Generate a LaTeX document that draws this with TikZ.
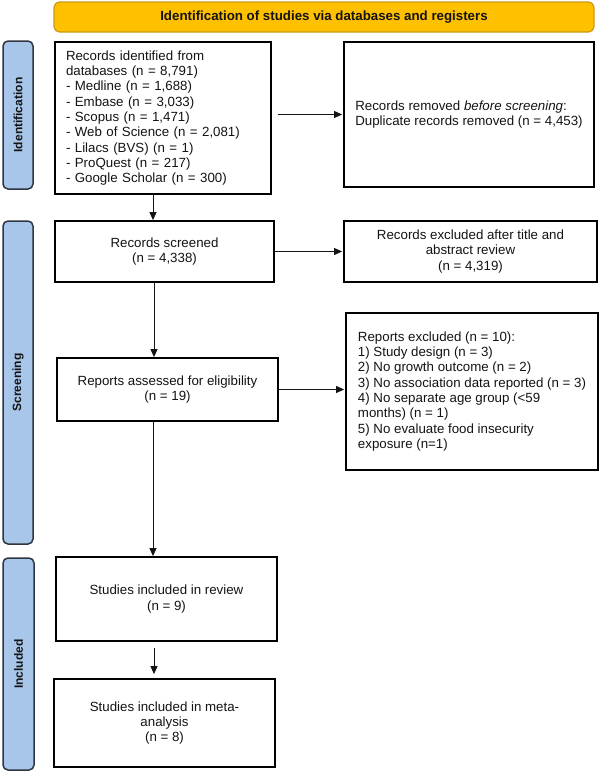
\documentclass[tikz,border=0pt]{standalone}
\usepackage{fontspec}
\setmainfont{Liberation Sans}
\usetikzlibrary{arrows.meta,calc}
\definecolor{hdrfill}{HTML}{FFC000}
\definecolor{hdrline}{HTML}{C99A10}
\definecolor{barfill}{HTML}{A7C6EA}
\definecolor{barline}{HTML}{2F3640}
\definecolor{txt}{HTML}{141414}
\begin{document}
\begin{tikzpicture}[x=1pt,y=-1pt,
  box/.style={draw=black,line width=1.8pt,fill=white,inner sep=0pt,text=txt,
    font=\fontsize{13.3}{15.3}\selectfont,align=center},
  leftbox/.style={box,align=left},
  sidebar/.style={draw=barline,line width=1.5pt,fill=barfill,rounded corners=5pt,
    inner sep=0pt,minimum width=30pt,text=txt,font=\bfseries\fontsize{12}{14}\selectfont},
  arr/.style={line width=0.9pt,draw=txt,-{Triangle[length=8pt,width=7pt]}}]
\useasboundingbox (0,0) rectangle (600,772);
% header
\node[draw=hdrline,line width=1.2pt,fill=hdrfill,rounded corners=6pt,minimum width=540pt,minimum height=30pt,inner sep=0pt,
  font=\bfseries\fontsize{13.3}{15}\selectfont,text=txt] (hdr) at (324,17) {Identification of studies via databases and registers};
% side bars
\node[sidebar,minimum height=148pt] (sid) at (18,115) {};
\node[rotate=90,font=\bfseries\fontsize{12}{14}\selectfont,text=txt] (sidl) at (sid.center) {Identification};
\node[sidebar,minimum height=323pt] (ssc) at (18,382.5) {};
\node[rotate=90,font=\bfseries\fontsize{12}{14}\selectfont,text=txt] (sscl) at (ssc.center) {Screening};
\node[sidebar,minimum width=31pt,minimum height=212pt] (sin) at (18.5,664) {};
\node[rotate=90,font=\bfseries\fontsize{12}{14}\selectfont,text=txt] (sinl) at (sin.center) {Included};
% boxes
\node[leftbox,minimum width=216pt,minimum height=152pt,text width=194pt] (b1) at (163,118)
  {Records identified from\\databases (n = 8,791)\\- Medline (n = 1,688)\\- Embase (n = 3,033)\\- Scopus (n = 1,471)\\- Web of Science (n = 2,081)\\- Lilacs (BVS) (n = 1)\\- ProQuest (n = 217)\\- Google Scholar (n = 300)};
\node[leftbox,minimum width=250pt,minimum height=145pt] (rm) at (469,114.5)
  {Records removed \textit{before screening}:\\Duplicate records removed (n = 4,453)};
\node[box,minimum width=219pt,minimum height=61pt] (sc) at (164.5,251.5) {Records screened\\(n = 4,338)};
\node[box,minimum width=253pt,minimum height=61pt] (ex) at (470.5,251.5) {Records excluded after title and\\abstract review\\(n = 4,319)};
\node[box,minimum width=221pt,minimum height=63pt] (ra) at (167.5,389.5) {Reports assessed for eligibility\\(n = 19)};
\node[leftbox,minimum width=252pt,minimum height=157pt] (re) at (472,391.5)
  {Reports excluded (n = 10):\\1) Study design (n = 3)\\2) No growth outcome (n = 2)\\3) No association data reported (n = 3)\\4) No separate age group (<59\\months) (n = 1)\\5) No evaluate food insecurity\\exposure (n=1)};
\node[box,minimum width=221pt,minimum height=84pt] (rv) at (166.5,599) {Studies included in review\\(n = 9)};
\node[box,minimum width=221pt,minimum height=88pt] (ma) at (164.5,723) {Studies included in meta-\\analysis\\(n = 8)};
% connectors
\coordinate (spine) at (153,0);
\draw[arr] ([xshift=6pt]b1.east |- rm.west) -- ([xshift=-1pt]rm.west);
\draw[arr] (sc.east) -- ([xshift=-1pt]ex.west);
\draw[arr] (ra.east) -- ([xshift=-1pt]ra.east -| re.west);
\draw[arr] (spine |- b1.south) -- (spine |- sc.north);
\draw[arr] ([xshift=1pt]spine |- sc.south) -- ([xshift=1pt]spine |- ra.north);
\draw[arr] (spine |- ra.south) -- (spine |- rv.north);
\draw[arr] ([xshift=1pt,yshift=-6pt]spine |- rv.south) -- ([xshift=1pt,yshift=4pt]spine |- ma.north);
\end{tikzpicture}
\end{document}
